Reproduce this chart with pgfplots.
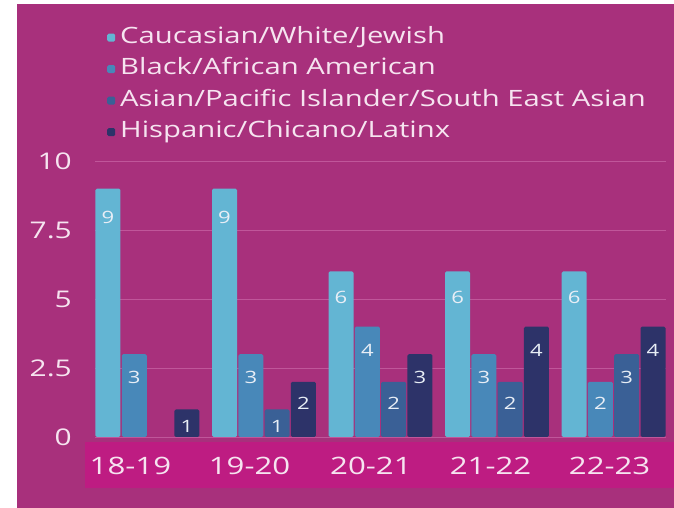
\documentclass[border=0pt]{standalone}
\usepackage{fontspec}
\setmainfont{Open Sans}[FakeStretch=1.3]
\usepackage{pgfplots}
\pgfplotsset{compat=1.18}
\definecolor{bgmag}{RGB}{168,48,124}
\definecolor{bandmag}{RGB}{190,28,130}
\definecolor{gridcol}{RGB}{192,86,154}
\definecolor{txtcol}{RGB}{246,228,240}
\definecolor{lblcol}{RGB}{232,238,246}
\definecolor{cauc}{RGB}{99,181,211}
\definecolor{blackaa}{RGB}{72,136,185}
\definecolor{asian}{RGB}{58,96,150}
\definecolor{hisp}{RGB}{45,51,105}
\begin{document}
\begin{tikzpicture}[x=1pt,y=1pt]
\useasboundingbox (0,0) rectangle (674,508);
\fill[white] (0,0) rectangle (674,508);
\fill[bgmag] (17,0) rectangle (674,504);
\fill[bandmag] (85,20) rectangle (674,66);
\begin{axis}[
  at={(95pt,71pt)}, anchor=south west,
  scale only axis, width=571pt, height=276pt,
  xmin=-0.45, xmax=4.45, ymin=0, ymax=10,
  axis line style={draw=none},
  major tick length=0pt,
  /pgf/number format/assume math mode=true,
  ytick={0,2.5,5,7.5,10},
  yticklabels={0,2.5,5,7.5,10},
  xtick={-0.146,0.876,1.918,2.944,3.966},
  xticklabels={18-19,19-20,20-21,21-22,22-23},
  yticklabel style={font=\fontsize{23}{27}\selectfont, text=txtcol, anchor=east, inner sep=0pt, xshift=-23pt},
  xticklabel style={font=\fontsize{24}{28}\selectfont, text=txtcol, anchor=base, inner sep=0pt, yshift=-38pt},
  ymajorgrids, grid style={draw=gridcol, line width=0.7pt},
  ybar, bar width=25pt,
  visualization depends on={y \as \rawy},
  nodes near coords,
  every node near coord/.append style={anchor=center, text=lblcol, font=\fontsize{17}{20}\selectfont, yshift={-min(20+\rawy,17*\rawy)}},
  legend image code/.code={\fill[#1,draw=none] (0pt,-4pt) rectangle (8pt,4pt);},
  legend style={at={(rel axis cs:0.021,1.482)}, anchor=north west, draw=none, fill=none,
    inner sep=0pt, row sep=12.5pt,
    nodes={inner sep=0pt, text height=15pt, text depth=4pt},
    font=\fontsize{22.5}{25}\selectfont, text=txtcol},
  legend cell align=left,
]
\addplot[fill=cauc, draw=none, bar shift=-39.45pt, rounded corners=1.5pt] coordinates {(0,9) (1,9) (2,6) (3,6) (4,6)};
\addplot[fill=blackaa, draw=none, bar shift=-13.15pt, rounded corners=1.5pt] coordinates {(0,3) (1,3) (2,4) (3,3) (4,2)};
\addplot[fill=asian, draw=none, bar shift=13.15pt, rounded corners=1.5pt] coordinates {(1,1) (2,2) (3,2) (4,3)};
\addplot[fill=hisp, draw=none, bar shift=39.45pt, rounded corners=1.5pt] coordinates {(0,1) (1,2) (2,3) (3,4) (4,4)};
\legend{\hspace{5pt}Caucasian/White/Jewish,\hspace{5pt}Black/African American,\hspace{5pt}Asian/Pacific Islander/South East Asian,\hspace{5pt}Hispanic/Chicano/Latinx}
\end{axis}
\end{tikzpicture}
\end{document}
